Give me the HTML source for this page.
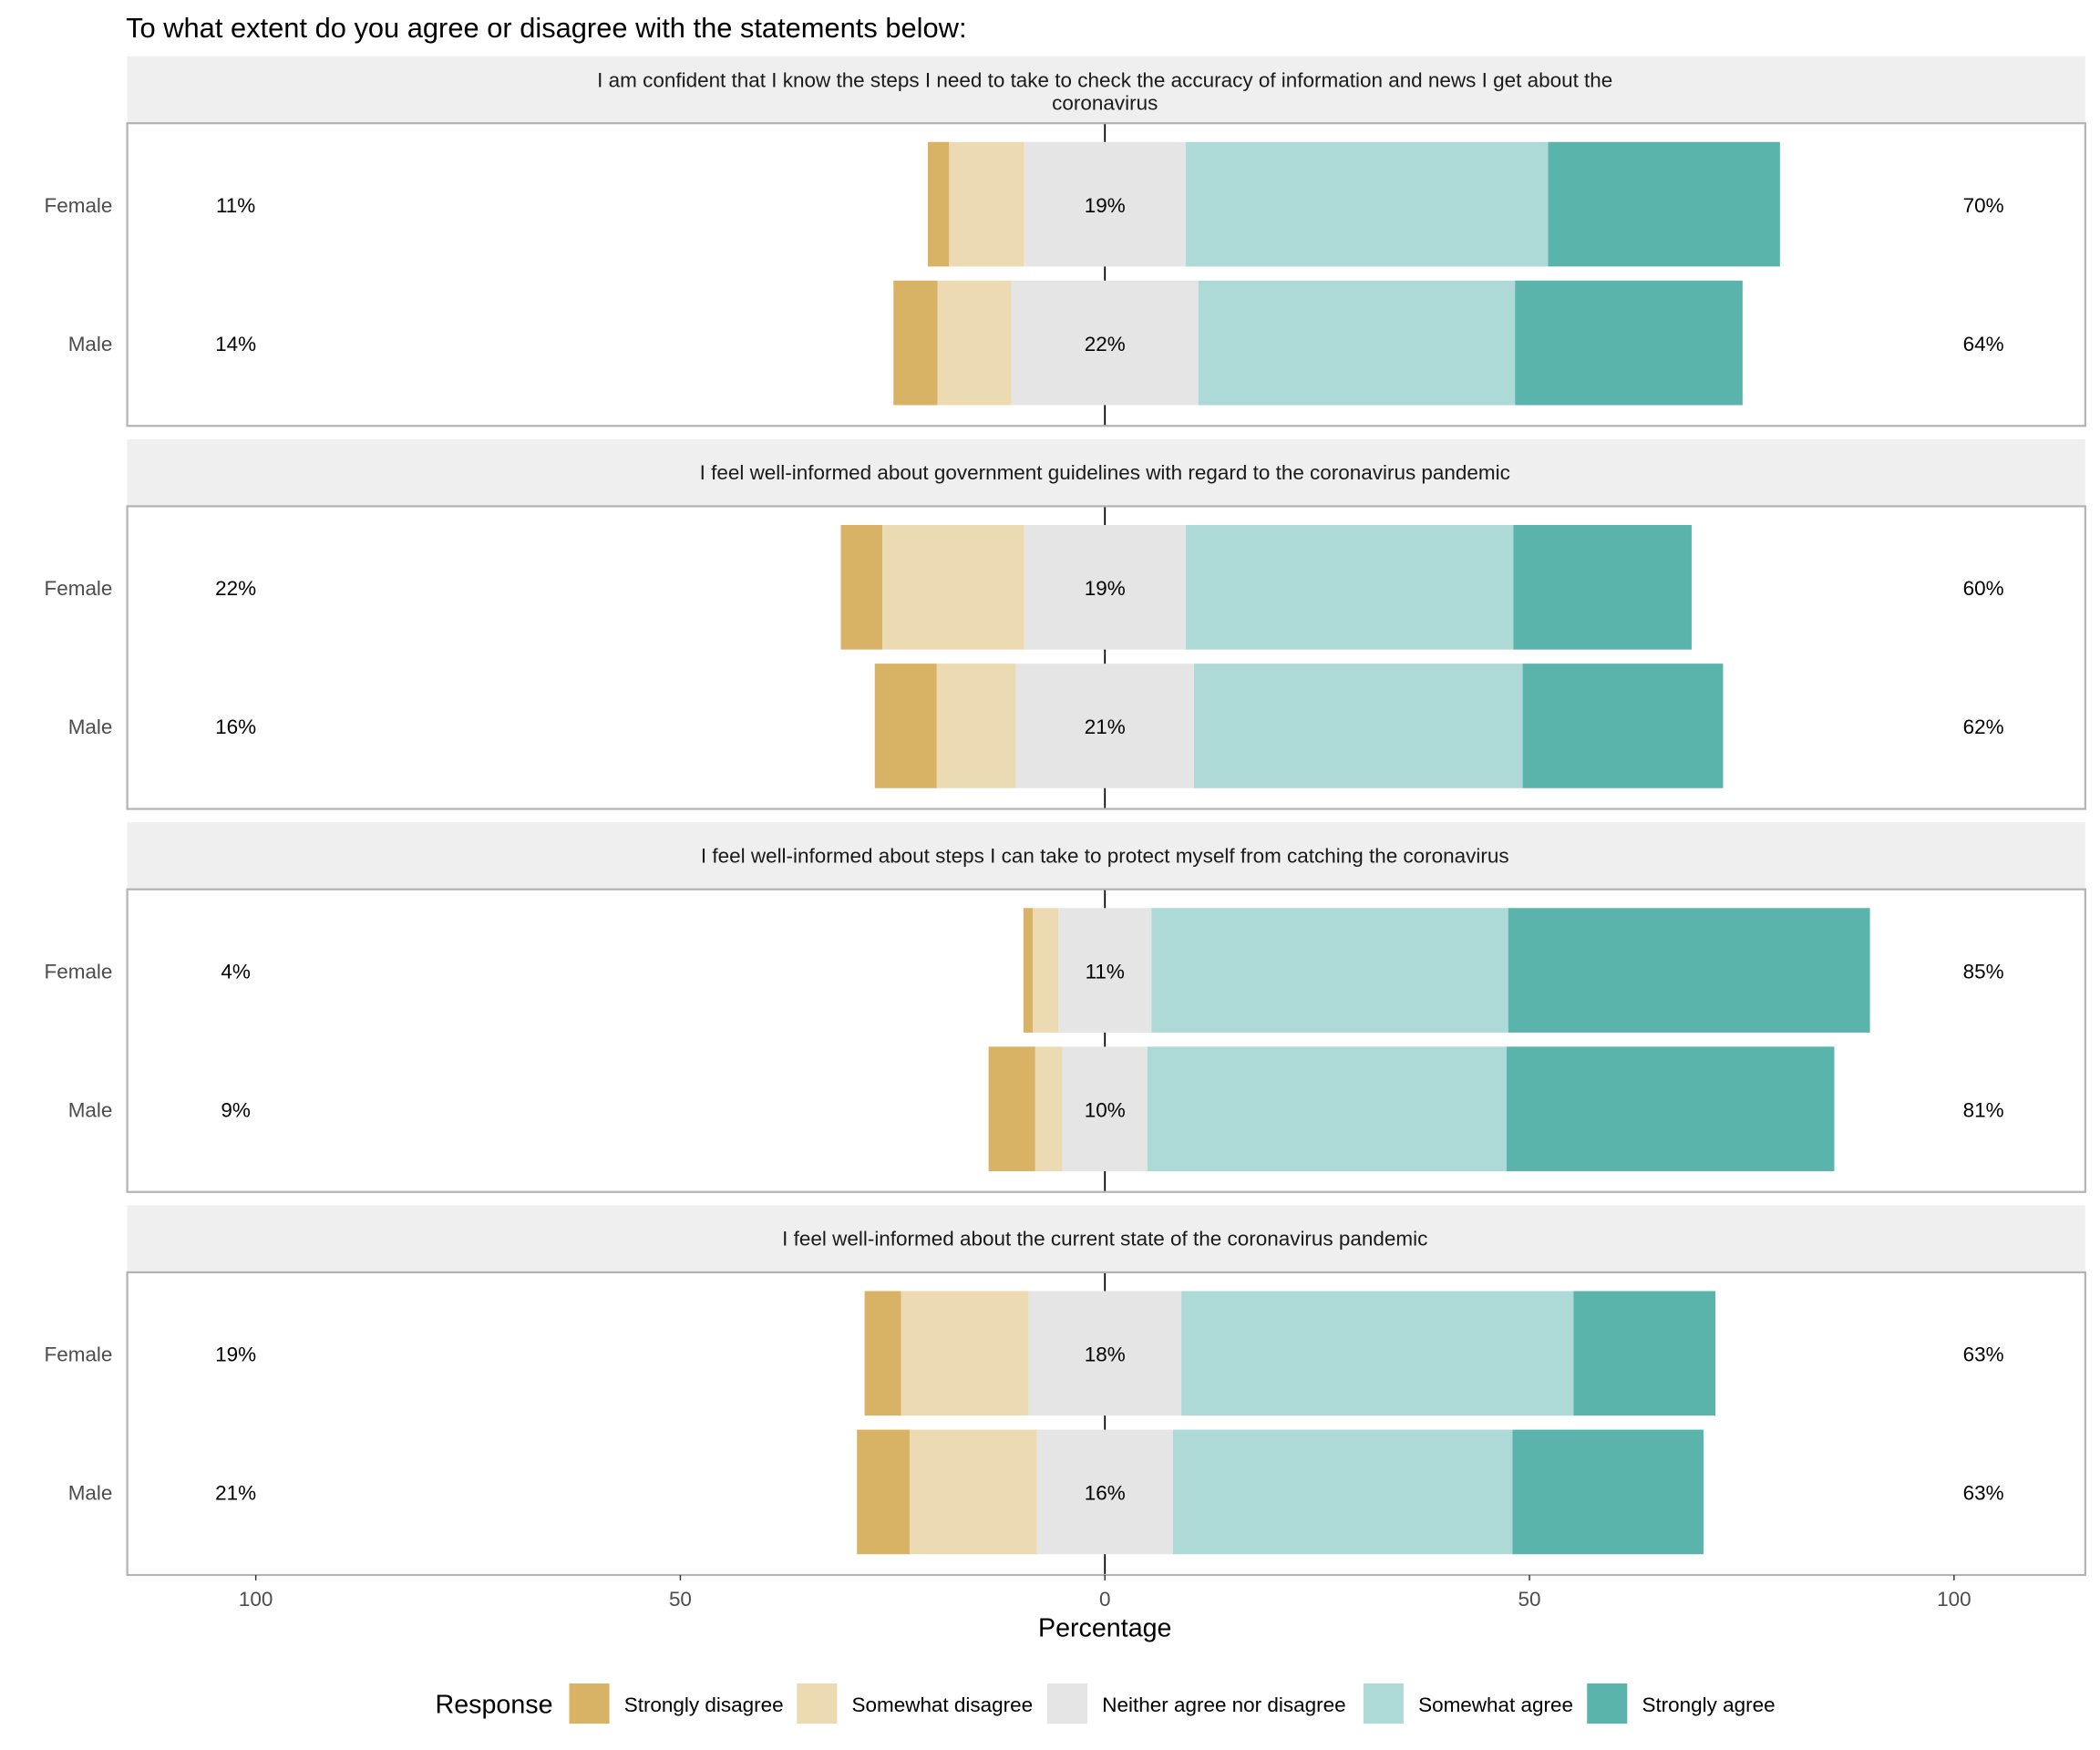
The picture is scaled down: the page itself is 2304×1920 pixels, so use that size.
<!DOCTYPE html>
<html><head><meta charset="utf-8"><style>
html,body{margin:0;padding:0;background:#fff}
svg{display:block;font-family:"Liberation Sans",Arial,sans-serif}
</style></head><body>
<svg id="c" width="2304" height="1920" viewBox="0 0 1568 1306.67" preserveAspectRatio="none">
<rect width="1568" height="1306.67" fill="#fff"/>
<text x="94" y="28" font-size="21" fill="#000">To what extent do you agree or disagree with the statements below:</text>
</svg>
<script>
const statements=[
 ["I am confident that I know the steps I need to take to check the accuracy of information and news I get about the","coronavirus"],
 ["I feel well-informed about government guidelines with regard to the coronavirus pandemic"],
 ["I feel well-informed about steps I can take to protect myself from catching the coronavirus"],
 ["I feel well-informed about the current state of the coronavirus pandemic"]
];
const groups=["Female","Male"];
const stronglyDisagree=[2.5,5.2,4.9,7.3,1.1,5.5,4.3,6.2];
const somewhatDisagree=[8.85,8.7,16.7,9.3,3.0,3.2,15.0,15.0];
const neutral=[19,22,19,21,11,10,18,16];
const somewhatAgree=[42.7,37.3,38.6,38.7,42.0,42.3,46.2,40.0];
const stronglyAgree=[27.3,26.8,21.0,23.6,42.6,38.6,16.7,22.5];
const leftLabels=["11%","14%","22%","16%","4%","9%","19%","21%"];
const midLabels=["19%","22%","19%","21%","11%","10%","18%","16%"];
const rightLabels=["70%","64%","60%","62%","85%","81%","63%","63%"];
const xTicks=[-100,-50,0,50,100];
const xTickLabels=["100","50","0","50","100"];
const legendLabels=["Strongly disagree","Somewhat disagree","Neither agree nor disagree","Somewhat agree","Strongly agree"];
const colors=["#D8B365","#EBDAB2","#E5E5E5","#ADD9D6","#5AB4AC"];

const svg=document.getElementById('c');
const NS='http://www.w3.org/2000/svg';
const FS=15.3;
const X=v=>825+v*6.34;
function el(t,a,p){const e=document.createElementNS(NS,t);for(const k in a)e.setAttribute(k,a[k]);(p||svg).appendChild(e);return e;}
function txt(x,y,s,size,anchor,fill){const e=el('text',{x:x,y:y,'font-size':size,'text-anchor':anchor||'start',fill:fill||'#000'});e.textContent=s;return e;}

statements.forEach((st,p)=>{
 const off=p*286;
 const strip=el('rect',{x:95,y:42+off,width:1462,height:50,fill:'#EFEFEF'});
 
 
 st.forEach((line,i)=>{
  const t=txt(825,st.length>1?65+off+i*17:72+off,line,FS,'middle','#1a1a1a');
  
  
 });
 el('line',{x1:825,y1:92+off,x2:825,y2:318+off,stroke:'#000','stroke-width':1.2});
 groups.forEach((g,gi)=>{
  const i=p*2+gi;
  const y=106+off+gi*103.5, h=93, cy=y+h/2;
  const vals=[stronglyDisagree[i],somewhatDisagree[i],neutral[i],somewhatAgree[i],stronglyAgree[i]];
  let start=-(vals[0]+vals[1]+vals[2]/2);
  vals.forEach((v,k)=>{
   const r=el('rect',{x:X(start),y:y,width:X(start+v)-X(start),height:h,fill:colors[k]});
   
   
   start+=v;
  });
  const yl=txt(84,cy+6,g,FS,'end','#4d4d4d');
  
  
  const l=txt(176,cy+6,leftLabels[i],FS,'middle');
  
  
  const m=txt(825,cy+6,midLabels[i],FS,'middle');
  
  
  const r=txt(1481,cy+6,rightLabels[i],FS,'middle');
  
  
 });
 const b=el('rect',{x:95,y:92+off,width:1462,height:226,fill:'none',stroke:'#B3B3B3','stroke-width':1.5});
 
 
});
xTicks.forEach((v,i)=>{
 el('line',{x1:X(v),y1:1176,x2:X(v),y2:1180,stroke:'#333'});
 const t=txt(X(v),1199,xTickLabels[i],FS,'middle','#4d4d4d');
 
 
});
const xt=txt(825,1222,'Percentage',19.5,'middle');


const lt=txt(325,1279,'Response',19.5,'start');


const kx=[425,595,782,1018,1185];
legendLabels.forEach((s,i)=>{
 const r=el('rect',{x:kx[i],y:1257,width:30,height:30,fill:colors[i]});
 
 
 const t=txt(kx[i]+41,1278,s,FS,'start');
 
 
});
</script>
</body></html>
